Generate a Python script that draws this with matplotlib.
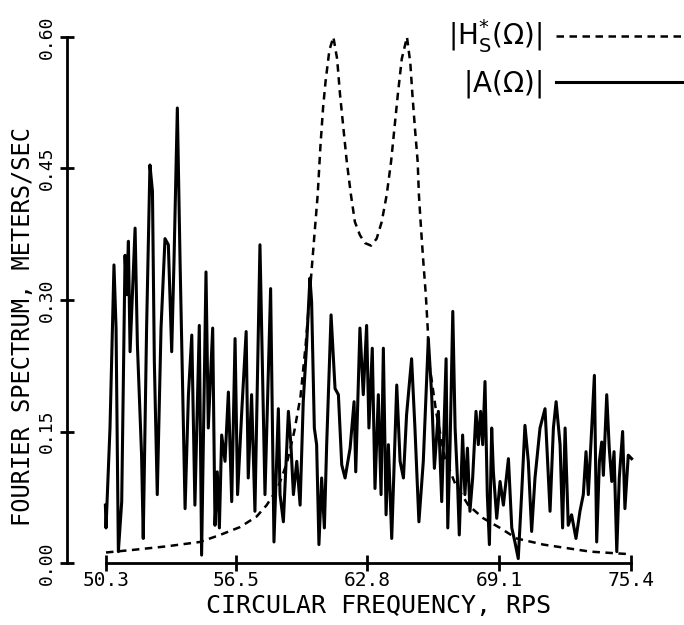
import matplotlib
matplotlib.use("Agg")
import matplotlib.pyplot as plt

plt.rcParams.update({
    "font.family": "DejaVu Sans Mono",
    "mathtext.fontset": "dejavusans",
})

A_FREQ = [
    50.27, 50.30, 50.49, 50.68, 50.78, 50.89, 51.05, 51.21, 51.29, 51.37,
    51.45, 51.56, 51.69, 51.80, 52.00, 52.08, 52.24, 52.40, 52.52, 52.61,
    52.75, 52.93, 53.12, 53.28, 53.44, 53.55, 53.71, 53.84, 54.08, 54.24,
    54.40, 54.55, 54.76, 54.87, 55.08, 55.19, 55.40, 55.51, 55.62, 55.72,
    55.83, 55.99, 56.15, 56.31, 56.47, 56.59, 56.79, 57.00, 57.10, 57.26,
    57.42, 57.66, 57.90, 58.17, 58.33, 58.54,
    58.62, 58.78, 59.02, 59.14, 59.26, 59.42, 59.58, 59.73, 59.89, 60.05,
    60.13, 60.26, 60.37, 60.48, 60.61, 60.74, 60.85, 61.06, 61.25, 61.41,
    61.57, 61.73, 61.97, 62.16, 62.24, 62.44, 62.60, 62.76, 62.87, 63.03,
    63.16, 63.32, 63.45, 63.56, 63.69, 63.80, 63.96, 64.20, 64.36, 64.52,
    64.67, 64.91, 65.07, 65.26, 65.47, 65.71, 65.87, 66.00, 66.19, 66.35,
    66.56, 66.64, 66.75,
    66.88, 66.99, 67.10, 67.19, 67.35, 67.46, 67.58, 67.70, 67.83, 67.99,
    68.10, 68.21, 68.31, 68.42, 68.53, 68.63, 68.74, 68.82, 68.98, 69.14,
    69.30, 69.54, 69.70, 69.85, 70.01, 70.17, 70.33, 70.49, 70.65, 70.81,
    71.05, 71.29, 71.40, 71.53, 71.69, 71.82, 72.01, 72.13, 72.25, 72.40,
    72.56, 72.77, 72.96, 73.12, 73.25, 73.36, 73.52, 73.65, 73.76, 73.89,
    74.00, 74.08, 74.24, 74.36, 74.48, 74.59, 74.72, 74.84, 75.00, 75.11,
    75.27, 75.43,
]
A_VAL = [
    0.066, 0.040, 0.154, 0.340, 0.268, 0.013, 0.070, 0.351, 0.306, 0.367,
    0.241, 0.306, 0.382, 0.249, 0.123, 0.028, 0.268, 0.454, 0.424, 0.230,
    0.078, 0.268, 0.370, 0.363, 0.241, 0.344, 0.519, 0.344, 0.062, 0.192,
    0.260, 0.066, 0.271, 0.009, 0.332, 0.154, 0.268, 0.043, 0.104, 0.040,
    0.146, 0.116, 0.195, 0.070, 0.256, 0.078, 0.173, 0.264, 0.097, 0.192,
    0.059, 0.363, 0.078, 0.313, 0.024, 0.176,
    0.078, 0.047, 0.173, 0.135, 0.078, 0.116, 0.066, 0.184, 0.249, 0.325,
    0.298, 0.154, 0.135, 0.021, 0.097, 0.040, 0.135, 0.283, 0.199, 0.192,
    0.112, 0.097, 0.131, 0.184, 0.104, 0.268, 0.192, 0.271, 0.154, 0.245,
    0.085, 0.192, 0.078, 0.245, 0.055, 0.135, 0.028, 0.203, 0.116, 0.097,
    0.169, 0.233, 0.154, 0.047, 0.116, 0.256, 0.192, 0.108, 0.173, 0.070,
    0.233, 0.040, 0.135,
    0.287, 0.154, 0.097, 0.032, 0.146, 0.078, 0.131, 0.059, 0.097, 0.173,
    0.135, 0.173, 0.135, 0.207, 0.078, 0.021, 0.154, 0.104, 0.051, 0.093,
    0.066, 0.119, 0.040, 0.024, 0.005, 0.078, 0.157, 0.116, 0.036, 0.097,
    0.154, 0.176, 0.123, 0.059, 0.154, 0.184, 0.135, 0.040, 0.154, 0.043,
    0.055, 0.028, 0.059, 0.078, 0.127, 0.078, 0.154, 0.214, 0.024, 0.116,
    0.138, 0.100, 0.192, 0.131, 0.093, 0.127, 0.013, 0.097, 0.150, 0.062,
    0.123, 0.119,
]

# |H*_S(Omega)| : two-peak transfer function
H_FREQ = [
    50.30, 51.61, 53.20, 54.79, 55.75, 56.71, 57.50, 57.98, 58.50, 58.95,
    59.30, 59.60, 59.85, 60.05, 60.25, 60.42, 60.55, 60.68, 60.80, 60.98,
    61.17, 61.35, 61.49, 61.65, 61.81, 62.01, 62.20, 62.44, 62.68, 62.97,
    63.24, 63.48, 63.72, 63.93, 64.09, 64.25, 64.44, 64.69, 64.85, 64.95,
    65.07, 65.20, 65.26, 65.36, 65.47, 65.59, 65.68, 65.74, 66.10, 66.50,
    67.00, 67.62, 68.34, 69.14, 69.93, 71.21, 72.33, 73.44, 74.72, 75.40,
]
H_VAL = [
    0.012, 0.015, 0.019, 0.024, 0.032, 0.041, 0.053, 0.066, 0.085, 0.114,
    0.150, 0.190, 0.250, 0.310, 0.370, 0.420, 0.475, 0.520, 0.550, 0.585,
    0.600, 0.575, 0.534, 0.496, 0.458, 0.420, 0.389, 0.374, 0.365, 0.362,
    0.370, 0.389, 0.420, 0.458, 0.496, 0.534, 0.575, 0.600, 0.570, 0.534,
    0.496, 0.458, 0.420, 0.382, 0.344, 0.306, 0.268, 0.230, 0.170, 0.120,
    0.090, 0.066, 0.051, 0.040, 0.028, 0.021, 0.017, 0.013, 0.011, 0.010,
]

XTICKS = [50.3, 56.5, 62.8, 69.1, 75.4]
XTICK_LABELS = ["50.3", "56.5", "62.8", "69.1", "75.4"]
YTICKS = [0.0, 0.15, 0.30, 0.45, 0.60]
YTICK_LABELS = ["0.00", "0.15", "0.30", "0.45", "0.60"]

fig = plt.figure(figsize=(6.84, 6.25), dpi=100)
ax = fig.add_axes([0.155, 0.0992, 0.7675, 0.8416])

ax.plot(H_FREQ, H_VAL, color="black", lw=1.8, dashes=(3, 2.2),
        label=r"$|\mathrm{H}_\mathrm{S}^{*}(\Omega)|$", clip_on=False)
ax.plot(A_FREQ, A_VAL, color="black", lw=2.2,
        label=r"$|\mathrm{A}(\Omega)|$", clip_on=False)

ax.set_xlim(50.3, 75.4)
ax.set_ylim(0, 0.6)

for s in ("top", "right"):
    ax.spines[s].set_visible(False)
ax.spines["left"].set_position(("outward", 28))
ax.spines["left"].set_linewidth(2)
ax.spines["bottom"].set_linewidth(2)

ax.set_xticks(XTICKS, labels=XTICK_LABELS)
ax.set_yticks(YTICKS, labels=YTICK_LABELS)
ax.tick_params(axis="x", direction="inout", length=12, width=2, pad=0, labelsize=14)
ax.tick_params(axis="y", direction="inout", length=10, width=2, pad=3, labelsize=13,
               labelrotation=90)
for t in ax.get_yticklabels():
    t.set_va("center")

fig.text(0.554, 0.030, "CIRCULAR FREQUENCY, RPS", ha="center", va="center", fontsize=18)
fig.text(0.033, 0.477, "FOURIER SPECTRUM, METERS/SEC", ha="center", va="center",
         rotation=90, fontsize=17)

ax.legend(loc="upper left", bbox_to_anchor=(0.655, 0.972), bbox_transform=fig.transFigure,
          markerfirst=False, frameon=False, fontsize=20, handlelength=4.7,
          handletextpad=0.5, borderpad=0, borderaxespad=0, labelspacing=0.45)

fig.savefig("out.png", dpi=100)
